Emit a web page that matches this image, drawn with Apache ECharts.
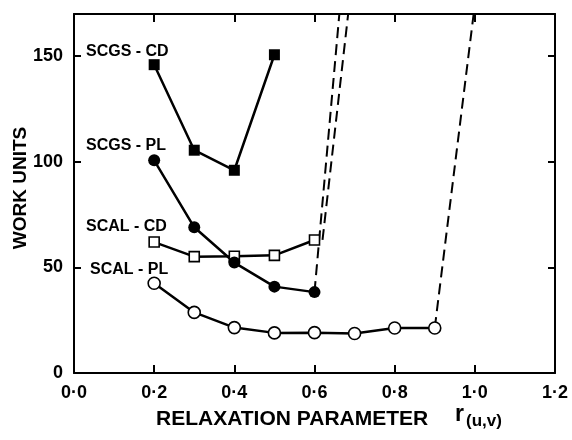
<!DOCTYPE html>
<html>
<head>
<meta charset="utf-8">
<script src="https://cdn.jsdelivr.net/npm/echarts@6/dist/echarts.min.js"></script>
<style>
  html, body { margin: 0; padding: 0; background: #fff; }
  #echart { width: 572px; height: 440px; }
</style>
</head>
<body>
<div id="echart"></div>
<script>
// 数据
var rScgsCd = [0.2, 0.3, 0.4, 0.5];
var scgsCd = [146, 105.5, 96, 150.7];

var rScgsPl = [0.2, 0.3, 0.4, 0.5, 0.6];
var scgsPl = [100.7, 69, 52.3, 40.9, 38.3];

var rScalCd = [0.2, 0.3, 0.4, 0.5, 0.6];
var scalCd = [62, 55.1, 55.3, 55.7, 63];

var rScalPl = [0.2, 0.3, 0.4, 0.5, 0.6, 0.7, 0.8, 0.9];
var scalPl = [42.5, 28.7, 21.5, 19, 19.1, 18.7, 21.3, 21.3];

// divergence (dashed) segments: [r, work units]
var divScgsPl = [[0.6, 38.3], [0.662, 170]];
var divScalCd = [[0.62, 63], [0.684, 170]];
var divScalPl = [[0.9, 21.3], [0.997, 170]];

var yTicks = [0, 50, 100, 150];

function pairs(xs, ys) {
    return xs.map(function (x, i) { return [x, ys[i]]; });
}

var font = '"Liberation Sans", Arial, sans-serif';
var black = '#000';

var myChart = echarts.init(document.getElementById("echart"));

function solid(name, xs, ys, symbol, filled, size) {
    return {
        name: name,
        type: 'line',
        data: pairs(xs, ys),
        z: 3,
        symbol: symbol,
        symbolSize: size,
        showAllSymbol: true,
        lineStyle: { color: black, width: 2.5 },
        itemStyle: {
            color: filled ? black : '#fff',
            borderColor: black,
            borderWidth: filled ? 0 : 1.6
        }
    };
}

function dashed(data) {
    return {
        type: 'line',
        data: data,
        z: 1,
        symbol: 'none',
        lineStyle: { color: black, width: 2, type: [11, 6] }
    };
}

var frameLine = { show: true, onZero: false, lineStyle: { color: black, width: 2 } };

option = {
    animation: false,
    backgroundColor: '#fff',
    grid: {
        left: 74,
        right: 17,
        top: 14,
        bottom: 67
    },
    xAxis: [
        {
            type: 'value',
            position: 'bottom',
            min: 0,
            max: 1.2,
            interval: 0.2,
            axisLine: frameLine,
            axisTick: { inside: true, length: 8, lineStyle: { color: black, width: 2 } },
            axisLabel: {
                color: black,
                fontFamily: font,
                fontWeight: 'bold',
                fontSize: 18,
                margin: 11,
                formatter: function (v) { return v.toFixed(1).replace('.', '·'); }
            },
            splitLine: { show: false }
        },
        {
            type: 'value',
            position: 'top',
            min: 0,
            max: 1.2,
            interval: 0.2,
            axisLine: frameLine,
            axisTick: { inside: true, length: 8, lineStyle: { color: black, width: 2 } },
            axisLabel: { show: false },
            splitLine: { show: false }
        }
    ],
    yAxis: [
        {
            type: 'value',
            position: 'left',
            min: 0,
            max: 170,
            interval: 50,
            axisLine: frameLine,
            axisTick: { show: true, inside: true, length: 7, lineStyle: { color: black, width: 2 } },
            axisLabel: {
                color: black,
                fontFamily: font,
                fontWeight: 'bold',
                fontSize: 18,
                margin: 11,
                formatter: function (v) { return yTicks.indexOf(v) >= 0 ? String(v) : ''; }
            },
            splitLine: { show: false }
        },
        {
            type: 'value',
            position: 'right',
            min: 0,
            max: 170,
            interval: 50,
            axisLine: frameLine,
            axisTick: { show: true, inside: true, length: 7, lineStyle: { color: black, width: 2 } },
            axisLabel: { show: false },
            splitLine: { show: false }
        }
    ],
    series: [
        dashed(divScgsPl),
        dashed(divScalCd),
        dashed(divScalPl),
        solid('SCAL-PL', rScalPl, scalPl, 'circle', false, 12),
        solid('SCAL-CD', rScalCd, scalCd, 'rect', false, 10),
        solid('SCGS-PL', rScgsPl, scgsPl, 'circle', true, 12),
        solid('SCGS-CD', rScgsCd, scgsCd, 'rect', true, 11)
    ],
    graphic: [
        { type: 'text', left: 86, top: 44, style: { text: 'SCGS - CD', font: 'bold 16px ' + font, fill: black } },
        { type: 'text', left: 86, top: 138, style: { text: 'SCGS - PL', font: 'bold 16px ' + font, fill: black } },
        { type: 'text', left: 86, top: 219, style: { text: 'SCAL - CD', font: 'bold 16px ' + font, fill: black } },
        { type: 'text', left: 90, top: 262, style: { text: 'SCAL - PL', font: 'bold 16px ' + font, fill: black } },
        {
            type: 'text', x: 21, y: 188, rotation: Math.PI / 2,
            style: { text: 'WORK UNITS', font: 'bold 19px ' + font, fill: black, align: 'center', verticalAlign: 'middle' }
        },
        { type: 'text', left: 156, top: 409, style: { text: 'RELAXATION PARAMETER', font: 'bold 21px ' + font, fill: black } },
        { type: 'text', left: 455, top: 403, style: { text: 'r', font: 'bold 23px ' + font, fill: black } },
        { type: 'text', left: 466, top: 413, style: { text: '(u,v)', font: 'bold 17px ' + font, fill: black } }
    ]
};
myChart.setOption(option);
</script>
</body>
</html>
